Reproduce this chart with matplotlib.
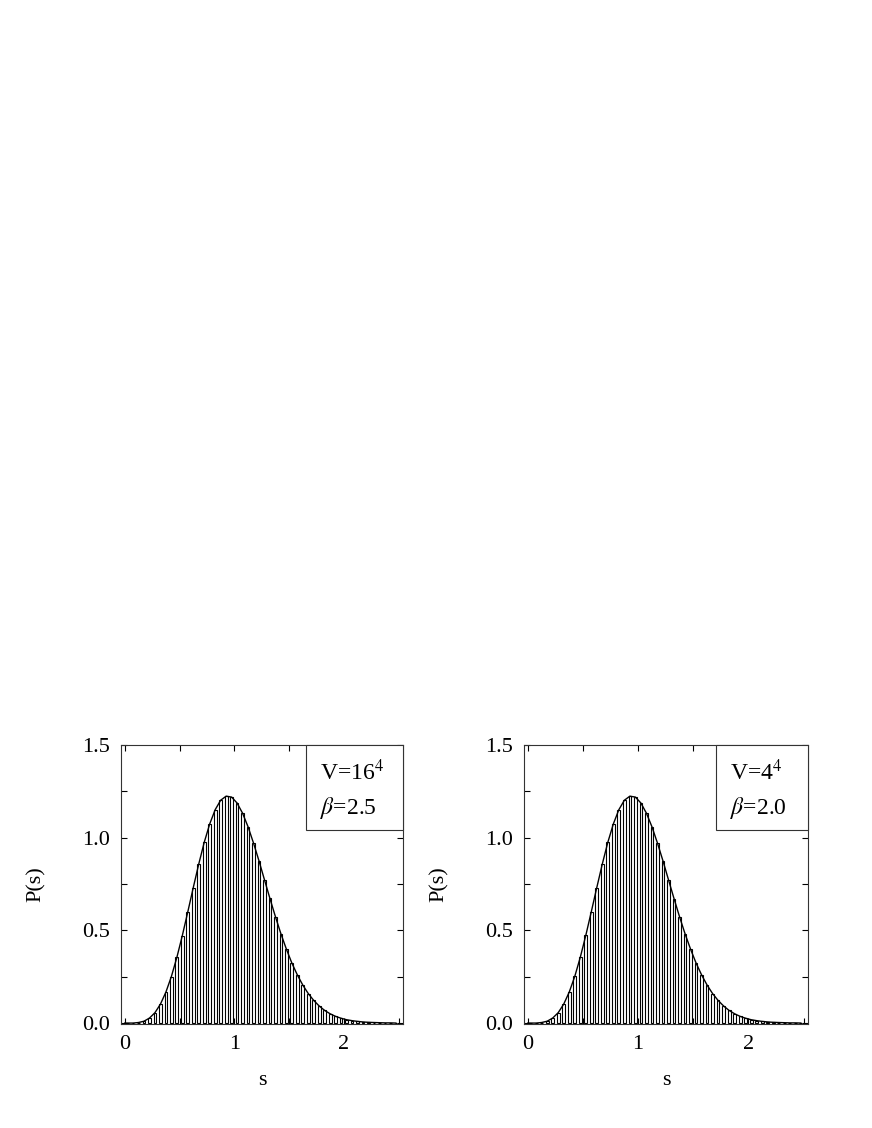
import numpy as np
import matplotlib
matplotlib.use("Agg")
import matplotlib.pyplot as plt
from matplotlib.patches import Rectangle

plt.rcParams['font.family'] = ['Liberation Serif', 'DejaVu Serif']
plt.rcParams['mathtext.fontset'] = 'stix'

# bin centres of the histogram (s) and read heights P(s)
s_bins = [0.025, 0.075, 0.125, 0.175, 0.225, 0.275, 0.325, 0.375, 0.425, 0.475,
          0.525, 0.575, 0.625, 0.675, 0.725, 0.775, 0.825, 0.875, 0.925, 0.975,
          1.025, 1.075, 1.125, 1.175, 1.225, 1.275, 1.325, 1.375, 1.425, 1.475,
          1.525, 1.575, 1.625, 1.675, 1.725, 1.775, 1.825, 1.875, 1.925, 1.975,
          2.025, 2.075, 2.125, 2.175, 2.225, 2.275, 2.325, 2.375, 2.425, 2.475]
hist_left = [0.000, 0.000, 0.003, 0.010, 0.027, 0.056, 0.102, 0.167, 0.251, 0.354,
             0.472, 0.600, 0.731, 0.858, 0.975, 1.074, 1.151, 1.202, 1.224, 1.219,
             1.187, 1.132, 1.059, 0.971, 0.875, 0.773, 0.672, 0.574, 0.482, 0.399,
             0.324, 0.260, 0.205, 0.159, 0.122, 0.092, 0.068, 0.050, 0.036, 0.026,
             0.018, 0.013, 0.009, 0.006, 0.004, 0.003, 0.002, 0.001, 0.001, 0.000]
hist_right = [0.000, 0.000, 0.003, 0.011, 0.027, 0.056, 0.101, 0.167, 0.252, 0.354,
              0.473, 0.600, 0.730, 0.858, 0.976, 1.074, 1.150, 1.202, 1.225, 1.219,
              1.186, 1.132, 1.059, 0.972, 0.875, 0.773, 0.671, 0.574, 0.482, 0.399,
              0.325, 0.260, 0.205, 0.159, 0.122, 0.092, 0.069, 0.050, 0.036, 0.026,
              0.018, 0.013, 0.009, 0.006, 0.004, 0.003, 0.002, 0.001, 0.001, 0.000]
# smooth reference curve (read at 0 and the bin centres)
s_curve = [0.0] + s_bins
p_curve = [0.0, 0.000, 0.000, 0.003, 0.010, 0.027, 0.056, 0.102, 0.167, 0.251, 0.354,
           0.472, 0.600, 0.731, 0.858, 0.975, 1.074, 1.151, 1.202, 1.224, 1.219,
           1.187, 1.132, 1.059, 0.971, 0.875, 0.773, 0.672, 0.574, 0.482, 0.399,
           0.324, 0.260, 0.205, 0.159, 0.122, 0.092, 0.068, 0.050, 0.036, 0.026,
           0.018, 0.013, 0.009, 0.006, 0.004, 0.003, 0.002, 0.001, 0.001, 0.000]

panel_text = [("V=16$^{4}$", r"$\beta$=2.5"), ("V=4$^{4}$", r"$\beta$=2.0")]
x_ticklabels = ["0", "1", "2"]
y_ticklabels = ["0.0", "0.5", "1.0", "1.5"]

W, H = 872, 1128
fig = plt.figure(figsize=(W / 100, H / 100), dpi=100)

panels = [
    dict(left=121, right=403, box_left=306, txt_x=320, hist=hist_left),
    dict(left=524, right=808, box_left=716, txt_x=730, hist=hist_right),
]
top_px, bot_px, box_bot_px = 745, 1024, 830

for i, pnl in enumerate(panels):
    ax = fig.add_axes([pnl['left'] / W, 1 - bot_px / H,
                       (pnl['right'] - pnl['left']) / W, (bot_px - top_px) / H])
    ax.bar(s_bins, pnl['hist'], width=0.025, color='white', edgecolor='black',
           linewidth=0.8, zorder=2)
    ax.plot(s_curve, p_curve, color='black', lw=1.0, zorder=3)
    ax.set_xlim(-0.035, 2.54)
    ax.set_ylim(-0.005, 1.5)
    ax.set_xticks([0, 1, 2])
    ax.set_xticklabels(x_ticklabels)
    ax.set_xticks([0.5, 1.5, 2.5], minor=True)
    ax.set_yticks([0.0, 0.5, 1.0, 1.5])
    ax.set_yticklabels(y_ticklabels)
    ax.set_yticks([0.25, 0.75, 1.25], minor=True)
    ax.tick_params(which='both', direction='in', top=True, right=True,
                   length=4, width=0.8, labelsize=16, pad=8)
    ax.tick_params(which='minor', length=4)
    for sp in ax.spines.values():
        sp.set_linewidth(0.8)
        sp.set_color('#333333')
    ax.set_xlabel("s", fontsize=16, labelpad=12)
    ax.set_ylabel("P(s)", fontsize=16, labelpad=26)
    # label box
    bx = (pnl['box_left'] - pnl['left']) / (pnl['right'] - pnl['left'])
    by = (bot_px - box_bot_px) / (bot_px - top_px)
    ax.add_patch(Rectangle((bx, by), 1 - bx, 1 - by, transform=ax.transAxes,
                           facecolor='white', edgecolor='#333333', lw=0.8,
                           zorder=5, clip_on=False))
    tx = (pnl['txt_x'] - pnl['left']) / (pnl['right'] - pnl['left'])
    t1, t2 = panel_text[i]
    ax.text(tx, (bot_px - 772) / (bot_px - top_px), t1, transform=ax.transAxes,
            fontsize=17, ha='left', va='center', zorder=6)
    ax.text(tx, (bot_px - 808) / (bot_px - top_px), t2, transform=ax.transAxes,
            fontsize=17, ha='left', va='center', zorder=6)

fig.savefig("out.png", dpi=100)
